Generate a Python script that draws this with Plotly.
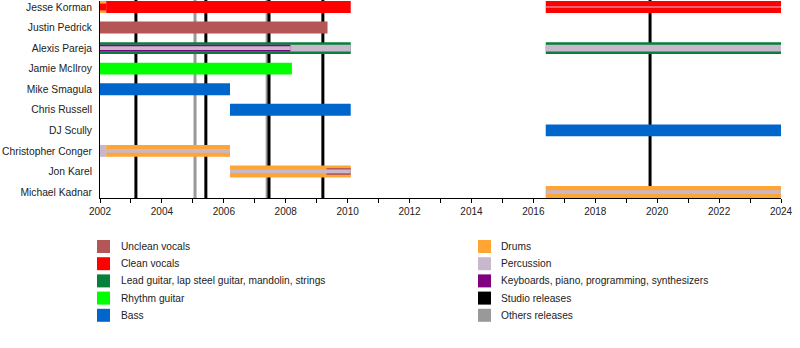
import plotly.graph_objects as go

# ---------------- data ----------------
members = ["Jesse Korman", "Justin Pedrick", "Alexis Pareja", "Jamie McIlroy",
           "Mike Smagula", "Chris Russell", "DJ Scully", "Christopher Conger",
           "Jon Karel", "Michael Kadnar"]

roles = ["Unclean vocals", "Clean vocals", "Lead guitar", "Rhythm guitar", "Bass",
         "Drums", "Percussion", "Keyboards", "Studio releases", "Others releases"]
legend_labels = ["Unclean vocals", "Clean vocals",
                 "Lead guitar, lap steel guitar, mandolin, strings", "Rhythm guitar", "Bass",
                 "Drums", "Percussion", "Keyboards, piano, programming, synthesizers",
                 "Studio releases", "Others releases"]
role_colors = ["#B45656", "#FF0000", "#06803A", "#00FF00", "#0066CC",
               "#FFA533", "#C8B8CC", "#800080", "#000000", "#999999"]

# (member, role, start, end)
main_bars = [
    ("Jesse Korman", "Drums", 2002.0, 2002.2),
    ("Jesse Korman", "Clean vocals", 2002.2, 2010.1),
    ("Jesse Korman", "Clean vocals", 2016.4, 2024.0),
    ("Justin Pedrick", "Unclean vocals", 2002.0, 2009.35),
    ("Alexis Pareja", "Lead guitar", 2002.0, 2010.1),
    ("Alexis Pareja", "Lead guitar", 2016.4, 2024.0),
    ("Jamie McIlroy", "Rhythm guitar", 2002.0, 2008.2),
    ("Mike Smagula", "Bass", 2002.0, 2006.2),
    ("Chris Russell", "Bass", 2006.2, 2010.1),
    ("DJ Scully", "Bass", 2016.4, 2024.0),
    ("Christopher Conger", "Percussion", 2002.0, 2002.2),
    ("Christopher Conger", "Drums", 2002.2, 2006.2),
    ("Jon Karel", "Drums", 2006.2, 2010.1),
    ("Michael Kadnar", "Drums", 2016.4, 2024.0),
]
mid_stripes = [
    ("Jesse Korman", "Clean vocals", 2002.0, 2002.2),
    ("Alexis Pareja", "Percussion", 2002.0, 2010.1),
    ("Alexis Pareja", "Percussion", 2016.4, 2024.0),
    ("Alexis Pareja", "Keyboards", 2002.0, 2008.15),
    ("Jon Karel", "Unclean vocals", 2009.32, 2010.1),
]
thin_stripes = [
    ("Alexis Pareja", "Percussion", 2002.0, 2008.15),
    ("Christopher Conger", "Percussion", 2002.2, 2006.2),
    ("Jon Karel", "Percussion", 2006.2, 2010.1),
    ("Michael Kadnar", "Percussion", 2016.4, 2024.0),
]
hair_stripes = [
    ("Jesse Korman", "Percussion", 2016.4, 2024.0),
]

studio_releases = [2003.16, 2005.42, 2007.46, 2009.2, 2019.77]
other_releases = [2005.07, 2007.4]

# ---------------- layout constants ----------------
W, H = 800, 348
ML, MR, MT, MB = 100, 19, 1, 150
PW, PH = W - ML - MR, H - MT - MB
FONT = "Liberation Sans, Arial, sans-serif"

color_of = dict(zip(roles, role_colors))
row_of = {m: i for i, m in enumerate(members)}


def px_x(X):
    return (X - ML) / PW


def px_y(Y):
    return (H - MB - Y) / PH


fig = go.Figure()

for segs, w, op in [(main_bars, 0.58, 1.0), (mid_stripes, 0.33, 1.0),
                    (thin_stripes, 0.18, 1.0), (hair_stripes, 0.09, 0.55)]:
    for m, r, s, e in segs:
        fig.add_trace(go.Bar(
            y=[row_of[m]], x=[e - s], base=[s], orientation="h", width=w,
            marker=dict(color=color_of[r], line=dict(width=0), opacity=op),
            showlegend=False, hoverinfo="skip"))

shapes = []
for yrs, col in [(other_releases, color_of["Others releases"]),
                 (studio_releases, color_of["Studio releases"])]:
    for yr in yrs:
        shapes.append(dict(type="line", xref="x", yref="paper", x0=yr, x1=yr,
                           y0=0, y1=1.005, line=dict(color=col, width=3), layer="below"))

# manual two-column legend
annotations = []
col_sq_x = [97, 478]
col_txt_x = [118.5, 498.5]
row0_y, row_dy, sq = 246.5, 17.2, 13
for k, (lab, col) in enumerate(zip(legend_labels, role_colors)):
    c, r = divmod(k, 5)
    yc = row0_y + r * row_dy
    shapes.append(dict(type="rect", xref="paper", yref="paper",
                       x0=px_x(col_sq_x[c]), x1=px_x(col_sq_x[c] + sq),
                       y0=px_y(yc + sq / 2), y1=px_y(yc - sq / 2),
                       fillcolor=col, line=dict(width=0)))
    annotations.append(dict(xref="paper", yref="paper", x=px_x(col_txt_x[c]), y=px_y(yc),
                            text=lab, showarrow=False, xanchor="left", yanchor="middle",
                            font=dict(family=FONT, size=10.2, color="#222")))

fig.update_layout(
    width=W, height=H, margin=dict(l=ML, r=MR, t=MT, b=MB, pad=0),
    paper_bgcolor="white", plot_bgcolor="white",
    barmode="overlay", showlegend=False,
    shapes=shapes, annotations=annotations,
    font=dict(family=FONT, size=10.3, color="#222"),
    xaxis=dict(type="linear", range=[2002, 2024], tick0=2002, dtick=2,
               ticks="outside", ticklen=4, tickcolor="black",
               minor=dict(dtick=1, ticks="outside", ticklen=4, tickcolor="black"),
               showline=True, linecolor="black", linewidth=1,
               showgrid=False, zeroline=False,
               tickfont=dict(family=FONT, size=10, color="#222")),
    yaxis=dict(range=[9.29, -0.29], tickvals=list(range(len(members))), ticktext=members,
               showline=True, linecolor="black", linewidth=1, ticks="",
               ticklabelstandoff=5,
               showgrid=False, zeroline=False,
               tickfont=dict(family=FONT, size=10.3, color="#222")),
)

fig.write_html("out.html")
